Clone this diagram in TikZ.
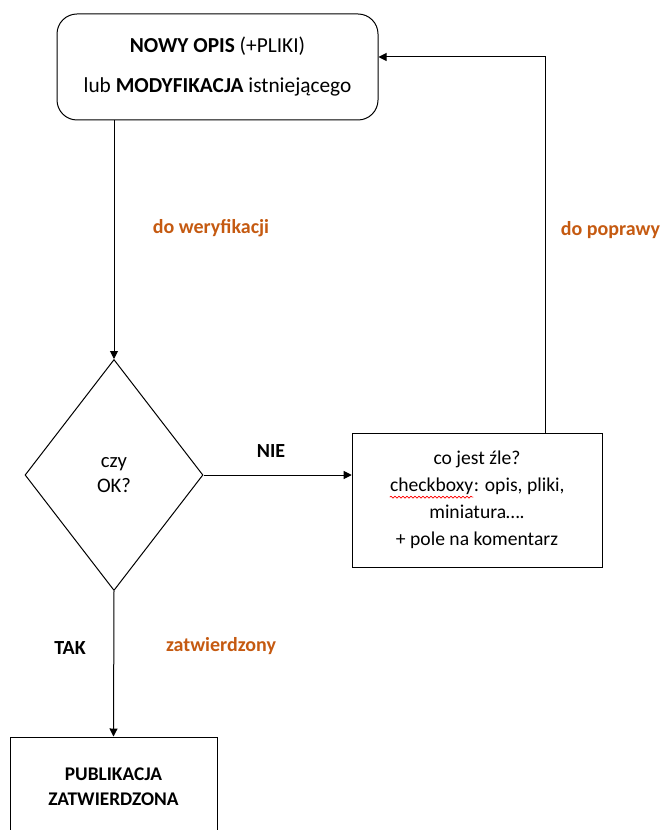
\documentclass[tikz,border=0pt]{standalone}
\usepackage{fontspec}
\setmainfont{Carlito}
\usetikzlibrary{shapes.geometric,arrows.meta,decorations.pathmorphing}
\definecolor{ordkol}{RGB}{197,90,17}
\begin{document}
\begin{tikzpicture}[x=0.75pt,y=-0.75pt,line width=0.75pt,
  every node/.style={font=\fontsize{14.7}{20.25}\selectfont},
  pole/.style={draw,align=center,inner sep=0pt},
  decyzja/.style={draw,diamond,inner sep=0pt,align=center,font=\fontsize{15.5}{18.75}\selectfont},
  etykieta/.style={font=\fontsize{15}{18}\selectfont\bfseries,text=ordkol},
  odp/.style={font=\fontsize{15}{18}\selectfont\bfseries},
  strz/.style={-{Triangle[length=6pt,width=6pt]}}]
\useasboundingbox (0,0) rectangle (666,830);
\clip (0,0) rectangle (666,830);
% flow of a description: submit, check, fix or publish
\node[pole,rounded corners=15pt,minimum width=240.75pt,minimum height=79.5pt,font=\fontsize{16}{30}\selectfont] (opis) at (217.5,67)
  {\textbf{NOWY OPIS} (+PLIKI)\\ lub \textbf{MODYFIKACJA} istniejącego};
\node[decyzja,minimum width=133.5pt,minimum height=173.25pt] (czy) at (114,475) {czy\\OK?};
\node[pole,minimum width=187.5pt,minimum height=100.5pt] (zle) at (477,500)
  {co jest źle?\\\tikz[baseline=(w.base),x=1cm,y=1cm]{\node[draw=none,inner sep=0pt,minimum width=0pt,minimum height=0pt] (w) {checkboxy};
   \draw[red,line width=0.5pt,decorate,decoration={snake,amplitude=0.7pt,segment length=3pt}]
   ([yshift=-1.5pt]w.south west) -- ([yshift=-1.5pt]w.south east);}: opis, pliki,\\miniatura\ldots.\\+ pole na komentarz};
\node[pole,minimum width=155.25pt,minimum height=75pt,font=\fontsize{14.5}{18.75}\selectfont\bfseries] (pub) at (113.5,787)
  {PUBLIKACJA\\ZATWIERDZONA};
\coordinate (powrot) at (545,57);
% connectors
\draw[strz] (opis.south -| czy.north) -- (czy.north);
\draw[strz] (czy.east) -- (czy.east -| zle.west);
\draw[strz] (zle.north -| powrot) -- (powrot) -- (powrot -| opis.east);
\draw[strz] (czy.south) -- (pub.north);
% labels
\node[etykieta] (l1) at (211,228) {do weryfikacji};
\node[etykieta,anchor=east] (l2) at (665,230) {do poprawy};
\node[odp] (l3) at (271,451) {NIE};
\node[odp] (l4) at (70,648) {TAK};
\node[etykieta] (l5) at (221,646) {zatwierdzony};
\end{tikzpicture}
\end{document}
